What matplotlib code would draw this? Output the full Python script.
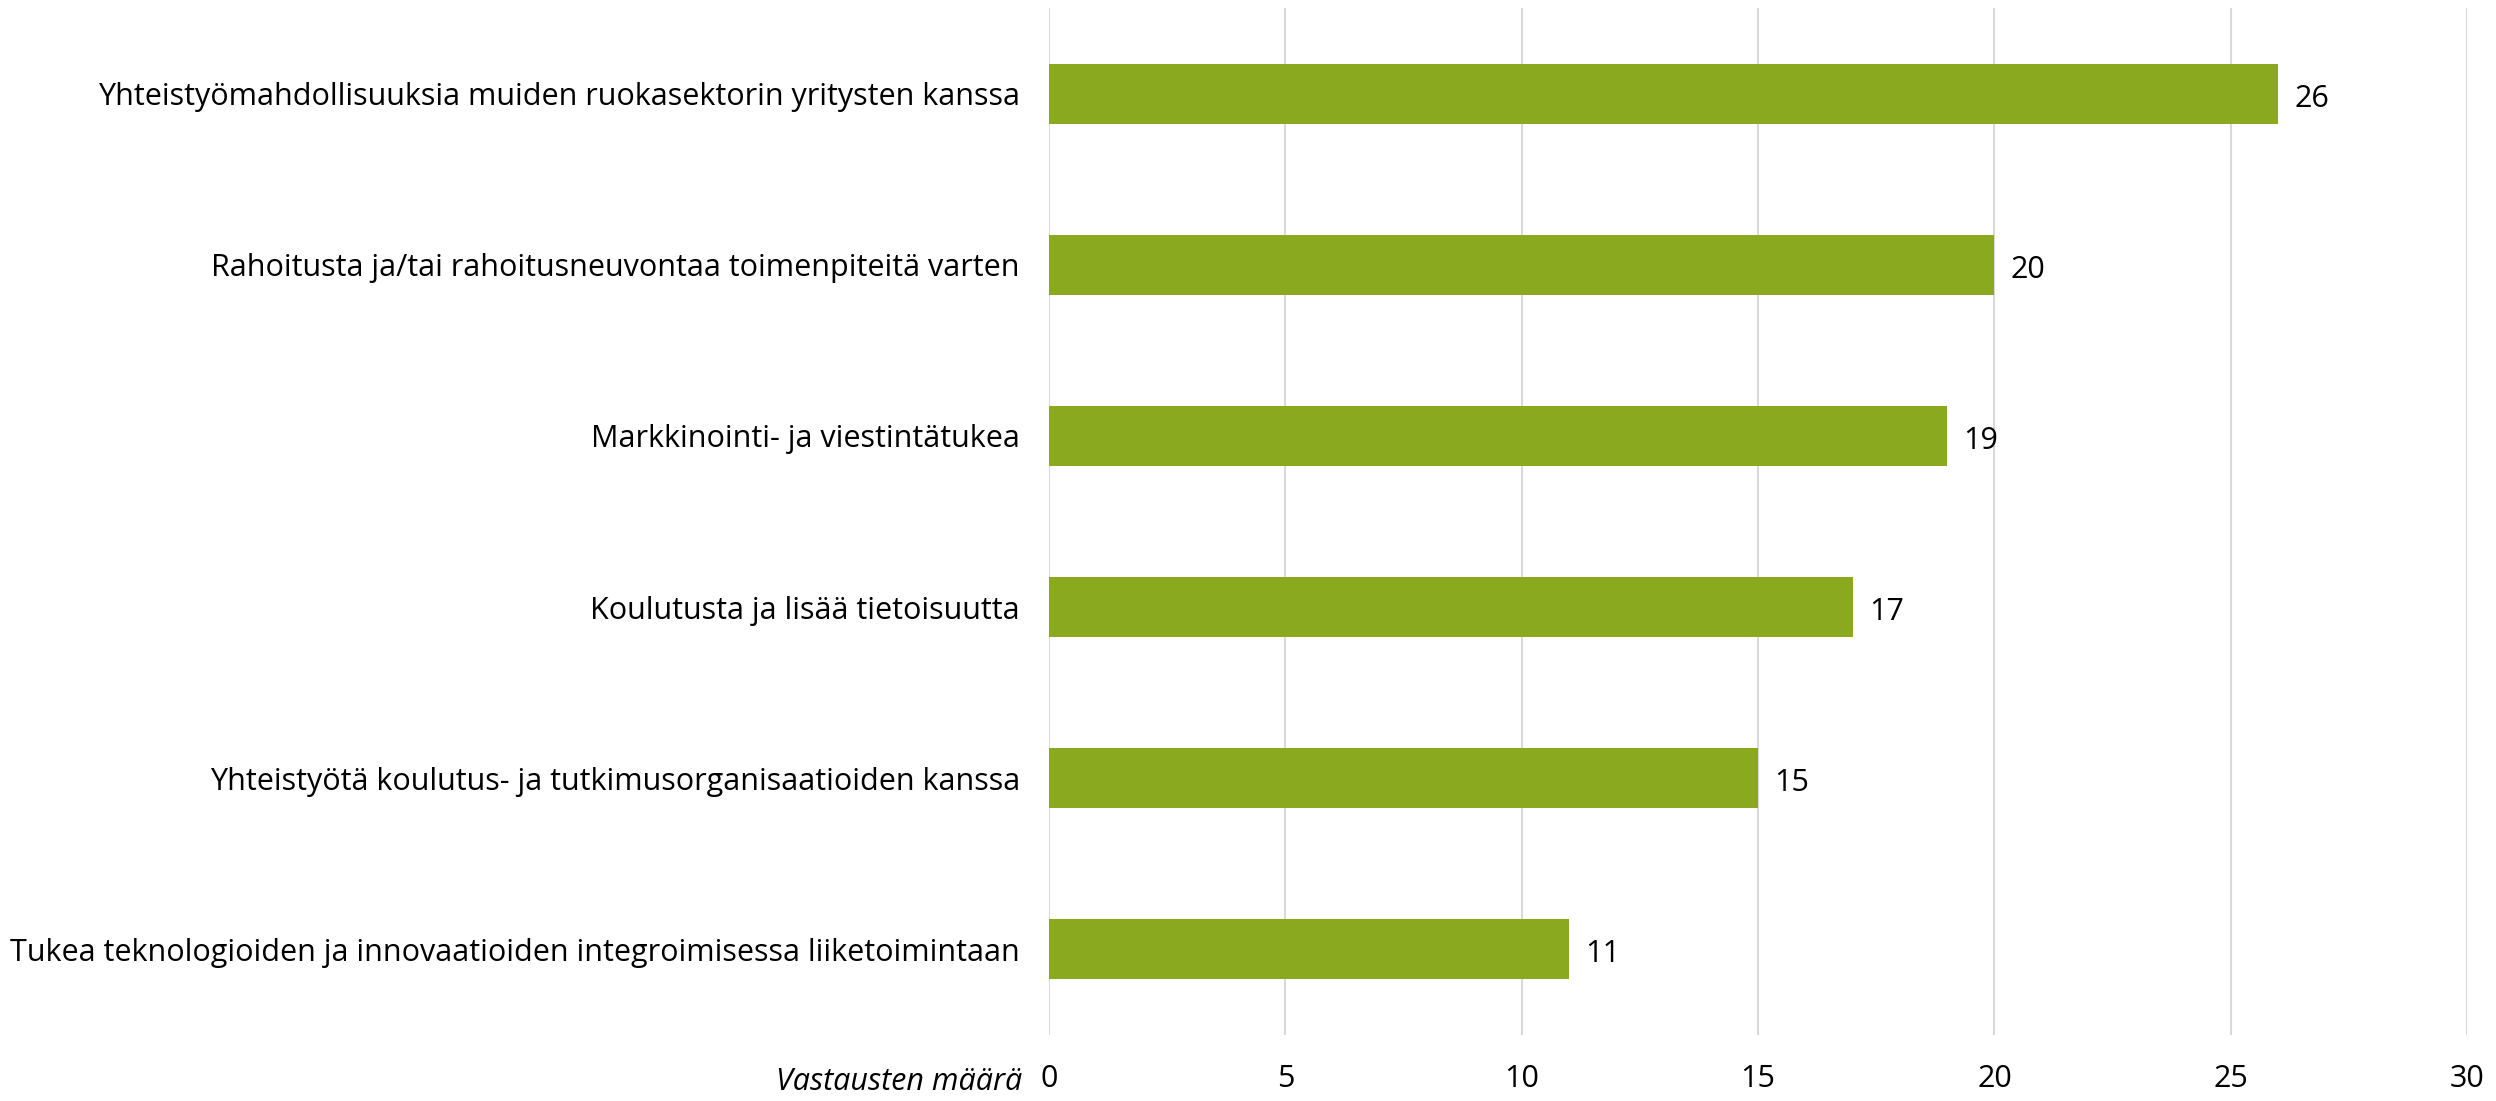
import matplotlib.pyplot as plt

categories = [
    "Yhteistyömahdollisuuksia muiden ruokasektorin yritysten kanssa",
    "Rahoitusta ja/tai rahoitusneuvontaa toimenpiteitä varten",
    "Markkinointi- ja viestintätukea",
    "Koulutusta ja lisää tietoisuutta",
    "Yhteistyötä koulutus- ja tutkimusorganisaatioiden kanssa",
    "Tukea teknologioiden ja innovaatioiden integroimisessa liiketoimintaan",
]
values = [26, 20, 19, 17, 15, 11]
x_ticks = [0, 5, 10, 15, 20, 25, 30]
x_label = "Vastausten määrä"

plt.rcParams['font.family'] = ['Open Sans', 'DejaVu Sans']

fig = plt.figure(figsize=(24.96, 11.01), dpi=100)
ax = fig.add_axes([0.4203, 0.06, 0.9884 - 0.4203, 0.9927 - 0.06])

y = range(len(categories))
ax.barh(y, values, height=0.35, color="#8AA91E", zorder=3)

# arvot palkkien perään
for i, v in enumerate(values):
    ax.text(v + 0.35, i + 0.03, str(v), va="center", ha="left", fontsize=22)

ax.set_xlim(0, 30)
ax.set_ylim(len(categories) - 0.5, -0.5)
ax.set_xticks(x_ticks)
ax.set_xticklabels([str(t) for t in x_ticks], fontsize=22)
ax.set_yticks(list(y))
ax.set_yticklabels(categories, fontsize=22)
ax.tick_params(axis="both", length=0)
ax.tick_params(axis="y", pad=21)
ax.tick_params(axis="x", pad=21)

ax.grid(axis="x", color="#D9D9D9", linewidth=1.5, zorder=0)
for s in ax.spines.values():
    s.set_visible(False)

fig.text(1022 / 2496, 1 - 1082 / 1101, x_label, ha="right", va="center",
         fontsize=22, style="italic")

fig.savefig("out.png", dpi=100)
